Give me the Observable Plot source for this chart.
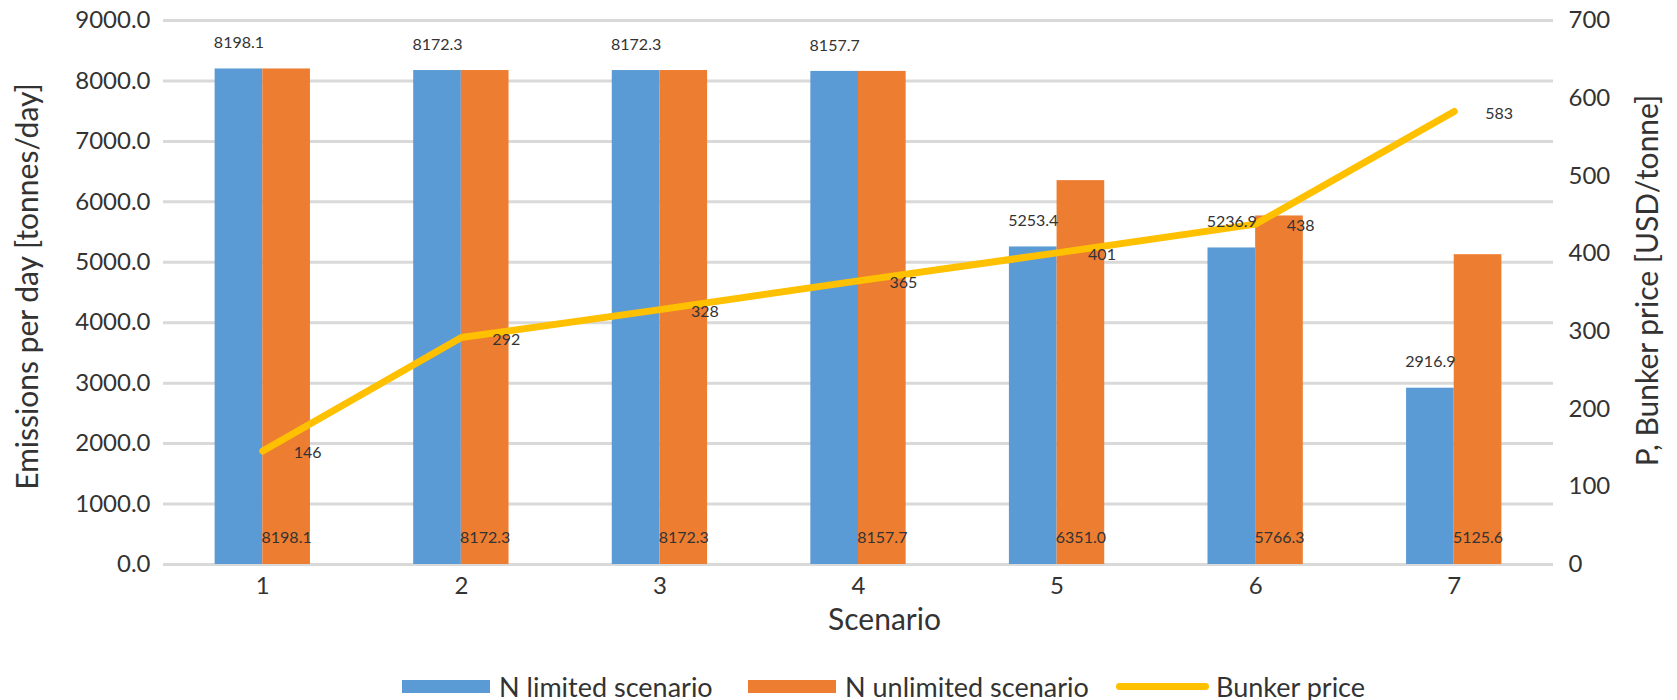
<!DOCTYPE html>
<html>
<head>
<meta charset="utf-8">
<script src="https://cdn.jsdelivr.net/npm/d3@7"></script>
<script src="https://cdn.jsdelivr.net/npm/@observablehq/plot@0.6"></script>
<style>
  html, body { margin: 0; padding: 0; background: #fff; }
  body { width: 1677px; height: 700px; position: relative; overflow: hidden; font-family: Lato, "Open Sans", sans-serif; color: #333; }
  #chart { position: absolute; left: 0; top: 0; }
  #legend { position: absolute; left: 0; top: 668px; width: 1677px; height: 36px; font-size: 27px; color: #333; white-space: nowrap; }
  #legend .item { position: absolute; top: 0; height: 36px; display: flex; align-items: center; }
  #legend .sw { width: 88px; height: 13px; margin-right: 9px; }
  #legend .ln { width: 93px; height: 7px; border-radius: 4px; margin-right: 7px; }
</style>
</head>
<body>
<div id="chart"></div>
<div id="legend"></div>
<script>
// Scenario categories and the three series
const scenarios = [1, 2, 3, 4, 5, 6, 7];
const nLimited = [8198.1, 8172.3, 8172.3, 8157.7, 5253.4, 5236.9, 2916.9];
const nUnlimited = [8198.1, 8172.3, 8172.3, 8157.7, 6351.0, 5766.3, 5125.6];
const bunkerPrice = [146, 292, 328, 365, 401, 438, 583];

// Axis ticks (left: emissions, right: bunker price)
const emissionTicks = [0, 1000, 2000, 3000, 4000, 5000, 6000, 7000, 8000, 9000];
const priceTicks = [0, 100, 200, 300, 400, 500, 600, 700];

const seriesNames = ["N limited scenario", "N unlimited scenario", "Bunker price"];
const colors = { limited: "#5B9BD5", unlimited: "#ED7D31", price: "#FFC000" };

// Price is drawn on the emissions scale: 700 USD/tonne maps to 9000 tonnes/day
const k = 9000 / 700;
const barW = 0.24; // width of each bar in scenario units

const rows = scenarios.map((s, i) => ({
  scenario: s,
  limited: nLimited[i],
  unlimited: nUnlimited[i],
  price: bunkerPrice[i]
}));

const chart = Plot.plot({
  width: 1677,
  height: 664,
  marginLeft: 163,
  marginRight: 124,
  marginTop: 20,
  marginBottom: 100,
  style: { fontFamily: "Lato, 'Open Sans', sans-serif", color: "#333", background: "#fff" },
  x: { domain: [0.5, 7.5] },
  y: { domain: [0, 9000] },
  marks: [
    Plot.gridY(emissionTicks, { stroke: "#d9d9d9", strokeWidth: 3, strokeOpacity: 1 }),
    Plot.rectY(rows, { x1: d => d.scenario - barW, x2: d => d.scenario, y: "limited", fill: colors.limited }),
    Plot.rectY(rows, { x1: d => d.scenario, x2: d => d.scenario + barW, y: "unlimited", fill: colors.unlimited }),
    Plot.line(rows, { x: "scenario", y: d => d.price * k, stroke: colors.price, strokeWidth: 7, strokeLinecap: "round", strokeLinejoin: "round" }),
    Plot.axisY(emissionTicks, { tickSize: 0, tickPadding: 13, fontSize: 24, tickFormat: d => d.toFixed(1), label: null }),
    Plot.axisY(priceTicks.map(p => p * k), { anchor: "right", tickSize: 0, tickPadding: 15, fontSize: 24, tickFormat: d => String(Math.round(d / k)), label: null }),
    Plot.axisX(scenarios, { tickSize: 0, tickPadding: 12, fontSize: 24, tickFormat: d => String(d), label: null }),
    // Data labels
    Plot.text(rows, { x: d => d.scenario - barW / 2, y: "limited", text: d => d.limited.toFixed(1), dy: -26, fontSize: 16, fill: "#333" }),
    Plot.text(rows, { x: d => d.scenario + barW / 2, y: () => 0, text: d => d.unlimited.toFixed(1), dy: -27, fontSize: 16, fill: "#333" }),
    Plot.text(rows, { x: "scenario", y: d => d.price * k, text: d => String(d.price), textAnchor: "start", dx: 31, dy: 2, fontSize: 16, fill: "#333" }),
    // Axis titles
    Plot.text(["Emissions per day [tonnes/day]"], { frameAnchor: "left", textAnchor: "middle", lineAnchor: "middle", rotate: -90, dx: -135, dy: -6, fontSize: 30, fill: "#333" }),
    Plot.text(["P, Bunker price [USD/tonne]"], { frameAnchor: "right", textAnchor: "middle", lineAnchor: "middle", rotate: -90, dx: 95, dy: -12, fontSize: 30, fill: "#333" }),
    Plot.text(["Scenario"], { frameAnchor: "bottom", textAnchor: "middle", lineAnchor: "middle", dx: 26, dy: 56, fontSize: 30, fill: "#333" })
  ]
});
document.getElementById("chart").appendChild(chart);

// Legend below the chart
const legend = document.getElementById("legend");
const swatches = [
  { name: seriesNames[0], color: colors.limited, cls: "sw", left: 402 },
  { name: seriesNames[1], color: colors.unlimited, cls: "sw", left: 748 },
  { name: seriesNames[2], color: colors.price, cls: "ln", left: 1116 }
];
for (const s of swatches) {
  const item = document.createElement("div");
  item.className = "item";
  item.style.left = s.left + "px";
  const sw = document.createElement("span");
  sw.className = s.cls;
  sw.style.background = s.color;
  const label = document.createElement("span");
  label.textContent = s.name;
  item.appendChild(sw);
  item.appendChild(label);
  legend.appendChild(item);
}
</script>
</body>
</html>
